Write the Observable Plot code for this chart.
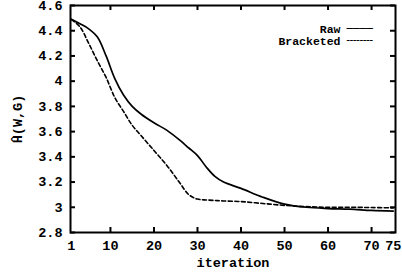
<!DOCTYPE html>
<html>
<head>
<meta charset="utf-8">
<script src="https://cdn.jsdelivr.net/npm/d3@7"></script>
<script src="https://cdn.jsdelivr.net/npm/@observablehq/plot@0.6"></script>
<style>
  html, body { margin: 0; padding: 0; background: white; }
</style>
</head>
<body>
<div id="chart"></div>
<script>
const iterations = [1, 3, 5, 7, 9, 11, 13, 15, 17, 20, 23, 26, 28, 30, 32, 34, 36, 40, 45, 50, 55, 60, 65, 70, 75];
const raw =        [4.49, 4.455, 4.415, 4.35, 4.20, 4.02, 3.89, 3.80, 3.74, 3.67, 3.61, 3.53, 3.47, 3.41, 3.32, 3.245, 3.20, 3.15, 3.08, 3.025, 3.00, 2.99, 2.985, 2.975, 2.97];
const bracketed =  [4.49, 4.43, 4.30, 4.16, 4.03, 3.87, 3.76, 3.65, 3.57, 3.45, 3.33, 3.19, 3.10, 3.065, 3.058, 3.054, 3.05, 3.045, 3.03, 3.015, 3.005, 3.0, 3.0, 2.998, 2.995];
const seriesNames = ["Raw", "Bracketed"];
const xTicks = [1, 10, 20, 30, 40, 50, 60, 70, 75];
const xTopTicks = [10, 20, 30, 40, 50, 60, 70];
const yTicks = [2.8, 3, 3.2, 3.4, 3.6, 3.8, 4, 4.2, 4.4, 4.6];
const xLabel = "iteration";
const yLabel = "Ĥ(W,G)";

const rawData = iterations.map((it, i) => ({it, v: raw[i]}));
const brData = iterations.map((it, i) => ({it, v: bracketed[i]}));

const H = 272, W = 402, mL = 70, mR = 7, mT = 5, mB = 40;
const frameH = H - mT - mB, frameW = W - mL - mR, tk = 5;

const chart = Plot.plot({
  width: W,
  height: H,
  marginLeft: mL,
  marginRight: mR,
  marginTop: mT,
  marginBottom: mB,
  style: {fontFamily: "'Liberation Mono', monospace", fontSize: "13.5px", fontWeight: "bold", background: "white", color: "black"},
  x: {domain: [0.82, 75.5]},
  y: {domain: [2.8, 4.6]},
  marks: [
    Plot.line(rawData, {x: "it", y: "v", curve: "catmull-rom", stroke: "black", strokeWidth: 1.7}),
    Plot.line(brData, {x: "it", y: "v", curve: "catmull-rom", stroke: "black", strokeWidth: 1.6, strokeDasharray: "4,2.5"}),
    Plot.tickX(xTicks.filter(d => d !== 1 && d !== 75), {x: d => d, insetTop: frameH - tk, stroke: "black", strokeWidth: 2}),
    Plot.tickX(xTopTicks, {x: d => d, insetBottom: frameH - tk, stroke: "black", strokeWidth: 2}),
    Plot.tickY(yTicks, {y: d => d, insetRight: frameW - tk, stroke: "black", strokeWidth: 2}),
    Plot.tickY(yTicks, {y: d => d, insetLeft: frameW - tk, stroke: "black", strokeWidth: 2}),
    Plot.axisX({anchor: "bottom", ticks: xTicks, tickSize: 0, tickPadding: 8, tickFormat: d => String(d), label: xLabel, labelAnchor: "center", labelArrow: "none", labelOffset: 34}),
    Plot.axisY({anchor: "left", ticks: yTicks, tickSize: 0, tickPadding: 8, tickFormat: d => String(d), label: yLabel, labelAnchor: "center", labelArrow: "none", labelOffset: 58}),
    Plot.frame({stroke: "black", strokeWidth: 2}),
    Plot.text([seriesNames[0]], {frameAnchor: "top-right", dx: -55, dy: 19, textAnchor: "end", fontSize: 11.5, letterSpacing: "1.8px"}),
    Plot.text([seriesNames[1]], {frameAnchor: "top-right", dx: -55, dy: 31, textAnchor: "end", fontSize: 11.5, letterSpacing: "1.8px"}),
    Plot.text(["────"], {frameAnchor: "top-right", dx: -49, dy: 19, textAnchor: "start", fontFamily: "'DejaVu Sans Mono', monospace", fontWeight: "normal", fontSize: 11}),
    Plot.text(["╌╌╌╌"], {frameAnchor: "top-right", dx: -49, dy: 31, textAnchor: "start", fontFamily: "'DejaVu Sans Mono', monospace", fontWeight: "normal", fontSize: 11})
  ]
});
document.getElementById("chart").appendChild(chart);
</script>
</body>
</html>
